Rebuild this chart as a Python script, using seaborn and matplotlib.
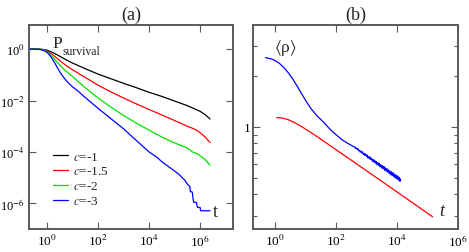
import numpy as np
import pandas as pd
import seaborn as sns
import matplotlib
matplotlib.use("Agg")
import matplotlib.pyplot as plt
from matplotlib.ticker import FixedLocator, FixedFormatter, NullLocator

# ---- panel (a): survival probability, values read as log10(t), log10(P)
c_labels = ["$c$=-1", "$c$=-1.5", "$c$=-2", "$c$=-3"]
c_colors = ["#000000", "#ff0000", "#00e000", "#0000ff"]

logt_c1 = [-0.7, -0.3, -0.1, 0.0, 0.2, 0.4, 0.6, 0.8, 1.0, 1.5, 2.0, 2.5, 3.0, 3.5, 4.0, 4.5,
           5.0, 5.5, 6.0, 6.2, 6.39]
logp_c1 = [0.0, 0.0, -0.02, -0.04, -0.12, -0.22, -0.33, -0.44, -0.54, -0.76, -0.97, -1.15, -1.33, -1.5, -1.68, -1.84,
           -2.02, -2.2, -2.42, -2.55, -2.72]

logt_c15 = [-0.7, -0.3, -0.1, 0.0, 0.2, 0.4, 0.6, 0.8, 1.0, 1.5, 2.0, 2.5, 3.0, 3.5, 4.0, 4.5,
            5.0, 5.5, 5.8, 6.0, 6.2, 6.39]
logp_c15 = [0.0, 0.0, -0.03, -0.07, -0.2, -0.36, -0.52, -0.67, -0.8, -1.1, -1.4, -1.66, -1.9, -2.13, -2.35, -2.56,
            -2.78, -3.0, -3.12, -3.25, -3.42, -3.64]

logt_c2 = [-0.7, -0.3, -0.1, 0.0, 0.2, 0.4, 0.6, 0.8, 1.0, 1.5, 2.0, 2.5, 3.0, 3.5, 4.0, 4.5,
           5.0, 5.5, 5.7, 5.9, 6.0, 6.2, 6.39]
logp_c2 = [0.0, 0.0, -0.04, -0.1, -0.28, -0.5, -0.72, -0.9, -1.06, -1.5, -1.9, -2.25, -2.58, -2.88, -3.15, -3.42,
           -3.65, -3.85, -4.0, -4.08, -4.15, -4.3, -4.52]

logt_c3 = [-0.7, -0.5, -0.3, -0.15, 0.0, 0.1, 0.2, 0.3, 0.4, 0.5, 0.6, 0.7, 0.8, 0.9, 1.0, 1.25,
           1.5, 1.75, 2.0, 2.5, 3.0, 3.5, 4.0, 4.3, 4.5, 4.8, 5.0, 5.2, 5.4, 5.5, 5.6, 5.62,
           5.68, 5.7, 5.72, 5.75, 5.85, 5.9, 6.0, 6.02, 6.39]
logp_c3 = [0.0, 0.0, -0.01, -0.04, -0.12, -0.22, -0.36, -0.52, -0.7, -0.87, -1.02, -1.15, -1.27, -1.37, -1.46, -1.66,
           -1.88, -2.09, -2.3, -2.7, -3.1, -3.55, -4.0, -4.2, -4.38, -4.6, -4.74, -4.9, -5.1, -5.25, -5.35, -5.55,
           -5.55, -5.6, -5.8, -5.96, -5.96, -6.16, -6.16, -6.29, -6.29]

# ---- panel (b): <rho>, values read as log10(t), log10(rho)
logt_rho_red = [0.07, 0.25, 0.45, 0.65, 0.85, 1.0, 1.2, 1.4, 2.11, 3.0, 4.0, 5.17]
logr_rho_red = [0.055, 0.052, 0.042, 0.025, 0.005, -0.012, -0.035, -0.059, -0.147, -0.258, -0.383, -0.53]

logt_rho_blue = [-0.30, -0.1, 0.0, 0.15, 0.3, 0.45, 0.6, 0.75, 0.9, 1.05, 1.2, 1.4, 1.6, 1.8, 2.0, 2.2, 2.4,
                 2.600, 2.625, 2.650, 2.675, 2.700, 2.725, 2.750, 2.775, 2.800, 2.825, 2.850, 2.875,
                 2.900, 2.925, 2.950, 2.975, 3.000, 3.025, 3.050, 3.075, 3.100, 3.125, 3.150, 3.175,
                 3.200, 3.225, 3.250, 3.275, 3.300, 3.325, 3.350, 3.375, 3.400, 3.425, 3.450, 3.475,
                 3.500, 3.525, 3.550, 3.575, 3.600, 3.625, 3.650, 3.675, 3.700, 3.725, 3.750, 3.775,
                 3.800, 3.825, 3.850, 3.875, 3.900, 3.925, 3.950, 3.975, 4.000, 4.025, 4.050, 4.075,
                 4.100, 4.125]
logr_rho_blue = [0.408, 0.400, 0.392, 0.375, 0.350, 0.318, 0.280, 0.236, 0.190, 0.145, 0.105, 0.062, 0.028,
                 -0.012, -0.045, -0.075, -0.098,
                 -0.118, -0.119, -0.127, -0.125, -0.133, -0.130, -0.141, -0.138, -0.149, -0.142, -0.153, -0.147,
                 -0.162, -0.157, -0.168, -0.159, -0.173, -0.166, -0.183, -0.175, -0.188, -0.177, -0.193, -0.186,
                 -0.203, -0.193, -0.208, -0.196, -0.214, -0.204, -0.223, -0.211, -0.227, -0.215, -0.235, -0.224,
                 -0.242, -0.228, -0.247, -0.234, -0.256, -0.242, -0.261, -0.246, -0.267, -0.253, -0.275, -0.260,
                 -0.283, -0.265, -0.287, -0.270, -0.294, -0.279, -0.302, -0.284, -0.307, -0.289, -0.313, -0.297,
                 -0.321, -0.307]

# ticks and tick labels
a_ticks_x = [1e0, 1e2, 1e4, 1e6]
a_ticks_x_labels = ["10$^{0}$", "10$^{2}$", "10$^{4}$", "10$^{6}$"]
a_ticks_y = [1e0, 1e-2, 1e-4, 1e-6]
a_ticks_y_labels = ["10$^{0}$", "10$^{-2}$", "10$^{-4}$", "10$^{-6}$"]
b_ticks_x = [1e0, 1e2, 1e4, 1e6]
b_ticks_x_labels = ["10$^{0}$", "10$^{2}$", "10$^{4}$", "10$^{6}$"]
b_ticks_y = [1.0]
b_ticks_y_labels = ["1"]
b_minor_y = [0.3, 0.4, 0.5, 0.6, 0.7, 0.8, 0.9, 2.0, 3.0]

SERIF = ["Liberation Serif", "STIXGeneral", "DejaVu Serif"]

sns.set_style("ticks")
plt.rcParams["font.family"] = SERIF
plt.rcParams["mathtext.fontset"] = "stix"
plt.rcParams["axes.unicode_minus"] = False

frames = []
for lab, lt, lp in zip(c_labels, [logt_c1, logt_c15, logt_c2, logt_c3],
                       [logp_c1, logp_c15, logp_c2, logp_c3]):
    frames.append(pd.DataFrame({"t": 10 ** np.array(lt), "P": 10 ** np.array(lp), "c": lab}))
df_a = pd.concat(frames, ignore_index=True)

df_b = pd.concat([
    pd.DataFrame({"t": 10 ** np.array(logt_rho_blue), "rho": 10 ** np.array(logr_rho_blue), "s": "blue"}),
    pd.DataFrame({"t": 10 ** np.array(logt_rho_red), "rho": 10 ** np.array(logr_rho_red), "s": "red"}),
], ignore_index=True)

fig = plt.figure(figsize=(4.69, 2.53), dpi=100)
ax_a = fig.add_axes([0.0618, 0.0909, 0.4357, 0.8075])
ax_b = fig.add_axes([0.5401, 0.0909, 0.4364, 0.8075])

spine_col = "#5a5a5a"

# panel (a)
sns.lineplot(data=df_a, x="t", y="P", hue="c", hue_order=c_labels, palette=c_colors,
             estimator=None, sort=False, lw=0.9, legend=False, ax=ax_a)
ax_a.set(xscale="log", yscale="log", xlim=(0.2, 2e7), ylim=(1e-7, 10 ** 0.95), xlabel="", ylabel="")
ax_a.xaxis.set_major_locator(FixedLocator(a_ticks_x))
ax_a.xaxis.set_major_formatter(FixedFormatter(a_ticks_x_labels))
ax_a.yaxis.set_major_locator(FixedLocator(a_ticks_y))
ax_a.yaxis.set_major_formatter(FixedFormatter(a_ticks_y_labels))
ax_a.xaxis.set_minor_locator(NullLocator())
ax_a.yaxis.set_minor_locator(NullLocator())
ax_a.set_title("(a)", fontsize=13, pad=4, family=SERIF)
ax_a.legend(ax_a.lines[:4], c_labels, loc="center left", bbox_to_anchor=(0.117, 0.246),
            frameon=False, prop={"family": SERIF, "size": 9.5}, handlelength=1.15,
            handletextpad=0.4, labelspacing=0.2, borderpad=0, borderaxespad=0)
ax_a.text(0.117, 0.892, "P", transform=ax_a.transAxes, fontsize=12.5, va="baseline", family=SERIF)
ax_a.text(0.163, 0.857, "survival", transform=ax_a.transAxes, fontsize=8.5, va="baseline", family=SERIF)
ax_a.text(0.90, 0.064, "t", transform=ax_a.transAxes, fontsize=13, va="baseline", family=SERIF)

# panel (b)
sns.lineplot(data=df_b, x="t", y="rho", hue="s", hue_order=["blue", "red"],
             palette=["#0000ff", "#ff0000"], estimator=None, sort=False, lw=0.9,
             legend=False, ax=ax_b)
ax_b.set(xscale="log", yscale="log", xlim=(0.2, 1e6), ylim=(0.25, 4), xlabel="", ylabel="")
ax_b.xaxis.set_major_locator(FixedLocator(b_ticks_x))
ax_b.xaxis.set_major_formatter(FixedFormatter(b_ticks_x_labels))
ax_b.xaxis.set_minor_locator(NullLocator())
ax_b.yaxis.set_major_locator(FixedLocator(b_ticks_y))
ax_b.yaxis.set_major_formatter(FixedFormatter(b_ticks_y_labels))
ax_b.yaxis.set_minor_locator(FixedLocator(b_minor_y))
ax_b.set_title("(b)", fontsize=13, pad=4, family=SERIF)
ax_b.text(0.106, 0.871, "\u27e8\u03c1\u27e9", transform=ax_b.transAxes, fontsize=12.5, va="baseline",
          family=["Liberation Serif", "STIXGeneral", "DejaVu Sans"])
ax_b.text(0.907, 0.069, "t", transform=ax_b.transAxes, fontsize=13, va="baseline",
          style="italic", family=SERIF)

for ax in (ax_a, ax_b):
    ax.tick_params(which="both", direction="in", top=True, right=True, colors=spine_col,
                   labelcolor="black", labelsize=9.5, labelfontfamily="Liberation Serif")
    ax.tick_params(which="major", length=5, width=0.8)
    ax.tick_params(which="minor", length=3, width=0.8)
    ax.tick_params(axis="x", pad=3)
    for sp in ax.spines.values():
        sp.set_color(spine_col)
        sp.set_linewidth(1.4)

ax_a.tick_params(axis="y", labelsize=9, pad=3)
ax_b.tick_params(axis="y", pad=2)

fig.savefig("out.png", dpi=100)
